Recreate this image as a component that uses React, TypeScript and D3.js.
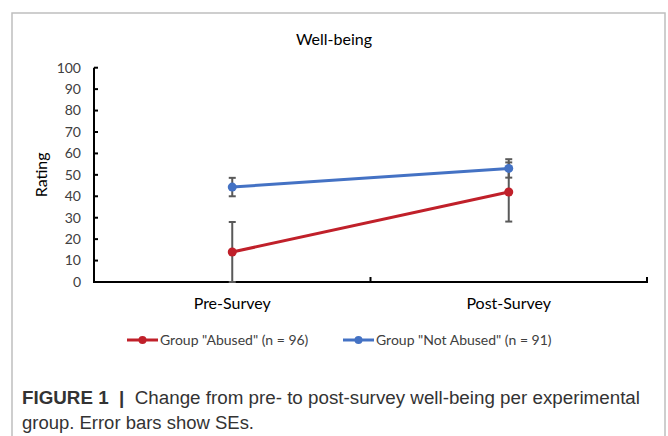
import React from "react";
import * as d3 from "d3";

const categories = ["Pre-Survey", "Post-Survey"];
const abusedValues = [14.0, 42.0];
const abusedErrors = [14.0, 13.8];
const notAbusedValues = [44.3, 53.0];
const notAbusedErrors = [4.3, 4.3];
const yTicks = [0, 10, 20, 30, 40, 50, 60, 70, 80, 90, 100];
const seriesNames = ['Group "Abused" (n = 96)', 'Group "Not Abused" (n = 91)'];

const W = 668;
const H = 436;
const RED = "#C0202A";
const BLUE = "#4472C4";
const ERR = "#595959";
const FONT = "Lato, 'Open Sans', sans-serif";

export default function App() {
  const x = d3.scaleBand<string>().domain(categories).range([94, 647]);
  const y = d3.scaleLinear().domain([0, 100]).range([282, 67.7]);
  const cx = (c: string) => (x(c) as number) + x.bandwidth() / 2;
  const line = d3
    .line<number>()
    .x((_, i) => cx(categories[i]))
    .y((d) => y(d));

  const series = [
    { name: seriesNames[0], values: abusedValues, errors: abusedErrors, color: RED },
    { name: seriesNames[1], values: notAbusedValues, errors: notAbusedErrors, color: BLUE },
  ];

  return (
    <svg width={W} height={H} style={{ position: "absolute", left: 0, top: 0, background: "#fff" }}>
      {/* frame */}
      <path d={`M12,${H} L12,13 L665,13 L665,${H}`} fill="none" stroke="#bfbfbf" strokeWidth={1.5} />
      <text x={334} y={45} textAnchor="middle" fontFamily={FONT} fontSize={16} fill="#000">
        Well-being
      </text>
      {/* y axis */}
      <line x1={94} x2={94} y1={y(100)} y2={y(0)} stroke="#000" strokeWidth={2} />
      {yTicks.map((t) => (
        <g key={t}>
          <line x1={94} x2={98} y1={y(t)} y2={y(t)} stroke="#000" strokeWidth={2} />
          <text x={81} y={y(t)} dy="0.35em" textAnchor="end" fontFamily={FONT} fontSize={14} fill="#404040">
            {t}
          </text>
        </g>
      ))}
      <text
        transform={`translate(47,${y(50)}) rotate(-90)`}
        textAnchor="middle"
        fontFamily={FONT}
        fontSize={16}
        fill="#000"
      >
        Rating
      </text>
      {/* x axis */}
      <line x1={93} x2={648} y1={y(0)} y2={y(0)} stroke="#000" strokeWidth={2} />
      {[...categories.map((c) => x(c) as number), 647].map((p, i) => (
        <line key={i} x1={p} x2={p} y1={y(0)} y2={y(0) - 5} stroke="#000" strokeWidth={2} />
      ))}
      {categories.map((c) => (
        <text key={c} x={cx(c)} y={309} textAnchor="middle" fontFamily={FONT} fontSize={16} fill="#000">
          {c}
        </text>
      ))}
      {/* series lines */}
      {series.map((s) => (
        <path key={s.name + "l"} d={line(s.values) as string} fill="none" stroke={s.color} strokeWidth={3} />
      ))}
      {/* error bars */}
      {series.map((s) =>
        s.values.map((v, i) => {
          const px = cx(categories[i]);
          const lo = y(Math.max(0, v - s.errors[i]));
          const hi = y(v + s.errors[i]);
          return (
            <g key={s.name + "e" + i} stroke={ERR} strokeWidth={2}>
              <line x1={px} x2={px} y1={lo} y2={hi} />
              <line x1={px - 3.5} x2={px + 3.5} y1={hi} y2={hi} />
              <line x1={px - 3.5} x2={px + 3.5} y1={lo} y2={lo} />
            </g>
          );
        })
      )}
      {/* markers */}
      {series.map((s) =>
        s.values.map((v, i) => (
          <circle key={s.name + "m" + i} cx={cx(categories[i])} cy={y(v)} r={4.5} fill={s.color} />
        ))
      )}
      {/* legend */}
      {series.map((s, i) => {
        const lx = i === 0 ? 127 : 343;
        return (
          <g key={s.name + "lg"}>
            <line x1={lx} x2={lx + 31} y1={340} y2={340} stroke={s.color} strokeWidth={3} />
            <circle cx={lx + 15.5} cy={340} r={4} fill={s.color} />
            <text x={lx + 33} y={340} dy="0.35em" fontFamily={FONT} fontSize={14} fill="#404040">
              {s.name}
            </text>
          </g>
        );
      })}
      {/* caption */}
      <text x={22} y={404} fontFamily="'Liberation Sans', Arial, sans-serif" fontSize={18} fill="#333" textLength={618} lengthAdjust="spacingAndGlyphs" style={{ whiteSpace: "pre" }}>
        <tspan fontWeight="bold">{"FIGURE 1  |"}</tspan>
        <tspan>{"  Change from pre- to post-survey well-being per experimental"}</tspan>
      </text>
      <text x={22} y={429} fontFamily="'Liberation Sans', Arial, sans-serif" fontSize={18} fill="#333" textLength={232} lengthAdjust="spacingAndGlyphs">
        group. Error bars show SEs.
      </text>
    </svg>
  );
}
